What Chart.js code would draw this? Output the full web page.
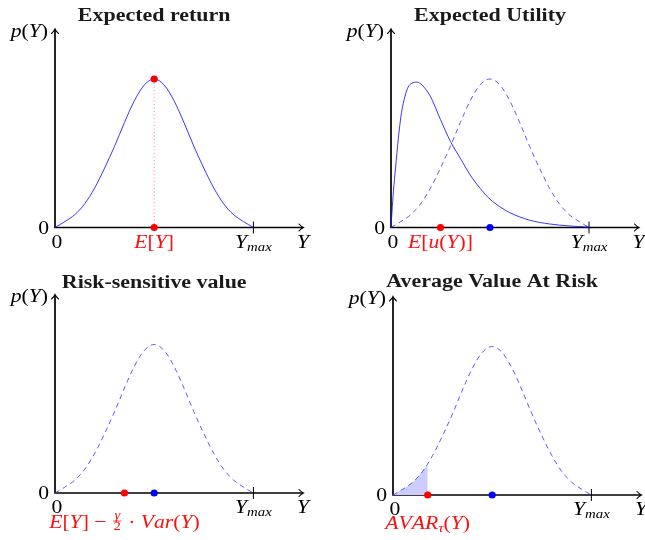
<!DOCTYPE html>
<html>
<head>
<meta charset="utf-8">
<script src="https://cdn.jsdelivr.net/npm/chart.js@4.4.1/dist/chart.umd.min.js"></script>
<style>
html, body { margin: 0; padding: 0; background: #fff; }
#wrap { position: relative; width: 645px; height: 540px; }
#wrap canvas { position: absolute; left: 0; top: 0; }
</style>
</head>
<body>
<div id="wrap">
  <canvas id="c1" width="645" height="540"></canvas>
  <canvas id="c2" width="645" height="540"></canvas>
  <canvas id="c3" width="645" height="540"></canvas>
  <canvas id="c4" width="645" height="540"></canvas>
</div>
<script>
// densities (x in tenths of Y_max, y relative to axis height)
const bellX = [0, 0.5, 1, 1.5, 2, 2.5, 3, 3.5, 4, 4.5, 5, 5.5, 6, 6.5, 7, 7.5, 8, 8.5, 9, 9.5, 10];
const bellY = [0, 0.03, 0.065, 0.12, 0.2, 0.3, 0.41, 0.53, 0.64, 0.72, 0.75, 0.72, 0.64, 0.53, 0.41, 0.3, 0.2, 0.12, 0.065, 0.03, 0];
const skewX = [0, 0.05, 0.12, 0.23, 0.37, 0.53, 0.7, 0.87, 1.05, 1.3, 1.5, 1.7, 2, 2.5, 3, 3.5, 4, 4.5, 5, 5.5, 6, 7, 8, 9, 10];
const skewY = [0, 0.08, 0.18, 0.3, 0.45, 0.58, 0.66, 0.71, 0.728, 0.734, 0.726, 0.705, 0.66, 0.545, 0.435, 0.35, 0.265, 0.198, 0.143, 0.105, 0.075, 0.037, 0.018, 0.008, 0.002];
const shadeX = [0, 0.5, 1, 1.5, 1.75];
const shadeY = [0, 0.03, 0.065, 0.12, 0.155];

const yMaxValue = 10;    // where the Y_max tick sits
const axisEnd = 12.5;    // arrow tip of the x axis
const axisTop = 1;       // arrow tip of the y axis
const meanValue = 5;
const peakValue = 0.75;
const utilityValue = 2.5;
const riskValue = 3.5;
const avarValue = 1.75;

const SERIF = '"Liberation Serif", "DejaVu Serif", serif';
const BLUE = 'rgba(20,20,255,0.85)';
const DASHED = 'rgba(50,50,255,0.8)';
const WIDE = 1.14;   // Computer Modern runs wider than Times

function pts(xs, ys) {
    return xs.map((x, i) => ({ x: x, y: ys[i] }));
}

function curve(xs, ys, dashed) {
    return {
        data: pts(xs, ys),
        showLine: true,
        borderColor: dashed ? DASHED : BLUE,
        borderWidth: 1,
        borderDash: dashed ? [5, 4] : [],
        pointRadius: 0,
        cubicInterpolationMode: 'monotone',
        clip: false
    };
}

function dot(x, y, color) {
    return {
        data: [{ x: x, y: y }],
        showLine: false,
        pointRadius: 3.6,
        pointBackgroundColor: color,
        pointBorderWidth: 0,
        clip: false
    };
}

// draw a row of math pieces; f: 'i' italic, 'r' upright; small = subscript
function drawMath(ctx, parts, x, y, color, align) {
    ctx.save();
    ctx.fillStyle = color;
    ctx.strokeStyle = color;
    ctx.textAlign = 'left';
    ctx.textBaseline = 'alphabetic';
    const fontOf = (p) => (p.f === 'r' ? '' : 'italic ') + (p.small ? 13 : 19) + 'px ' + SERIF;
    const widths = parts.map(p => {
        if (p.frac) {
            ctx.font = 'italic 13px ' + SERIF;
            const a = ctx.measureText(p.frac[0]).width;
            ctx.font = '13px ' + SERIF;
            const b = ctx.measureText(p.frac[1]).width;
            return (Math.max(a, b) + 3) * WIDE;
        }
        ctx.font = fontOf(p);
        return ctx.measureText(p.t).width * WIDE;
    });
    const total = widths.reduce((a, b) => a + b, 0);
    let cx = align === 'right' ? x - total : align === 'left' ? x : x - total / 2;
    parts.forEach((p, i) => {
        const w = widths[i];
        ctx.save();
        ctx.translate(cx, y);
        ctx.scale(WIDE, 1);
        const lw = w / WIDE;
        if (p.frac) {
            ctx.font = 'italic 13px ' + SERIF;
            ctx.textAlign = 'center';
            ctx.fillText(p.frac[0], lw / 2, -9);
            ctx.font = '13px ' + SERIF;
            ctx.fillText(p.frac[1], lw / 2, 2);
            ctx.lineWidth = 0.7;
            ctx.beginPath();
            ctx.moveTo(1, -7);
            ctx.lineTo(lw - 1, -7);
            ctx.stroke();
        } else {
            ctx.font = fontOf(p);
            ctx.fillText(p.t, 0, p.small ? 3 : 0);
        }
        ctx.restore();
        cx += w;
    });
    ctx.restore();
}

const I = (t) => ({ t: t, f: 'i' });
const R = (t) => ({ t: t, f: 'r' });
const S = (t) => ({ t: t, f: 'i', small: true });

const pY = [I('p'), R('('), I('Y'), R(')')];
const yMaxLabel = [I('Y'), S('max')];

const decor = {
    id: 'decor',
    beforeDatasetsDraw(chart, args, opts) {
        const ctx = chart.ctx;
        const xs = chart.scales.x, ys = chart.scales.y;
        const x0 = xs.getPixelForValue(0), y0 = ys.getPixelForValue(0);
        const xe = xs.getPixelForValue(axisEnd), yt = ys.getPixelForValue(axisTop);
        const xm = xs.getPixelForValue(yMaxValue);
        ctx.save();
        ctx.strokeStyle = '#000';
        ctx.lineWidth = 1.7;
        ctx.lineCap = 'butt';
        ctx.beginPath();
        ctx.moveTo(x0 - 0.8, y0);
        ctx.lineTo(xe, y0);
        ctx.moveTo(x0, y0 + 0.8);
        ctx.lineTo(x0, yt);
        ctx.stroke();
        // arrow heads
        ctx.lineWidth = 1.1;
        ctx.lineCap = 'round';
        ctx.beginPath();
        ctx.moveTo(xe - 4, y0 - 3.5);
        ctx.quadraticCurveTo(xe - 1.5, y0 - 0.8, xe + 0.5, y0);
        ctx.quadraticCurveTo(xe - 1.5, y0 + 0.8, xe - 4, y0 + 3.5);
        ctx.moveTo(x0 - 3.5, yt + 4);
        ctx.quadraticCurveTo(x0 - 0.8, yt + 1.5, x0, yt - 0.5);
        ctx.quadraticCurveTo(x0 + 0.8, yt + 1.5, x0 + 3.5, yt + 4);
        ctx.stroke();
        // Y_max tick
        ctx.lineWidth = 1;
        ctx.lineCap = 'butt';
        ctx.beginPath();
        ctx.moveTo(xm, y0 - 6);
        ctx.lineTo(xm, y0 + 6);
        ctx.stroke();
        ctx.restore();
    },
    afterDraw(chart, args, opts) {
        const ctx = chart.ctx;
        const xs = chart.scales.x, ys = chart.scales.y;
        const x0 = xs.getPixelForValue(0), y0 = ys.getPixelForValue(0);
        const xe = xs.getPixelForValue(axisEnd), yt = ys.getPixelForValue(axisTop);
        const xm = xs.getPixelForValue(yMaxValue);

        // bold extended title
        ctx.save();
        ctx.fillStyle = '#1a1a1a';
        ctx.font = 'bold 18px ' + SERIF;
        ctx.textAlign = 'center';
        ctx.textBaseline = 'alphabetic';
        ctx.translate(xs.getPixelForValue(meanValue), yt + opts.titleDy);
        ctx.scale(1.22, 1);
        ctx.fillText(opts.title, 0, 0);
        ctx.restore();

        drawMath(ctx, pY, x0 - 7, yt + 7, '#000', 'right');
        drawMath(ctx, [R('0')], x0 - 6, y0 + 6, '#000', 'right');
        drawMath(ctx, [R('0')], x0 + 2, y0 + 20, '#000', 'center');
        drawMath(ctx, yMaxLabel, xm, y0 + 20, '#000', 'center');
        drawMath(ctx, [I('Y')], xe, y0 + 20, '#000', 'center');
        drawMath(ctx, opts.label, xs.getPixelForValue(opts.labelAt), y0 + opts.labelDy, '#ff1010', 'center');
    }
};

function makePanel(id, pad, datasets, deco) {
    new Chart(document.getElementById(id), {
        type: 'scatter',
        data: { datasets: datasets },
        options: {
            responsive: false,
            animation: false,
            events: [],
            layout: { padding: pad },
            scales: {
                x: { type: 'linear', min: 0, max: axisEnd, display: false },
                y: { type: 'linear', min: 0, max: axisTop, display: false }
            },
            plugins: {
                legend: { display: false },
                tooltip: { enabled: false },
                decor: deco
            }
        },
        plugins: [decor]
    });
}

// Expected return
makePanel('c1', { left: 55, right: 342, top: 29.5, bottom: 312.5 }, [
    dot(meanValue, peakValue, '#ff0000'),
    dot(meanValue, 0, '#ff0000'),
    {
        data: pts([meanValue, meanValue], [0, peakValue]),
        showLine: true,
        borderColor: 'rgba(255,90,90,0.8)',
        borderWidth: 1,
        borderDash: [1, 2.5],
        pointRadius: 0,
        clip: false
    },
    curve(bellX, bellY, false)
], {
    title: 'Expected return', titleDy: -9,
    label: [I('E'), R('['), I('Y'), R(']')], labelAt: meanValue, labelDy: 20
});

// Expected Utility
makePanel('c2', { left: 391, right: 6.5, top: 29.5, bottom: 312.5 }, [
    dot(utilityValue, 0, '#ff0000'),
    dot(meanValue, 0, '#0000ff'),
    curve(skewX, skewY, false),
    curve(bellX, bellY, true)
], {
    title: 'Expected Utility', titleDy: -9,
    label: [I('E'), R('['), I('u'), R('('), I('Y'), R(')'), R(']')], labelAt: utilityValue, labelDy: 20
});

// Risk-sensitive value
makePanel('c3', { left: 55, right: 342, top: 295, bottom: 47 }, [
    dot(riskValue, 0, '#ff0000'),
    dot(meanValue, 0, '#0000ff'),
    curve(bellX, bellY, true)
], {
    title: 'Risk-sensitive value', titleDy: -7,
    label: [I('E'), R('['), I('Y'), R(']'), R(' \u2212 '), { frac: ['\u03b3', '2'] }, R(' \u00b7 '), I('V'), I('ar'), R('('), I('Y'), R(')')],
    labelAt: riskValue, labelDy: 35
});

// Average Value At Risk
makePanel('c4', { left: 393, right: 2, top: 297, bottom: 45 }, [
    dot(avarValue, 0, '#ff0000'),
    dot(meanValue, 0, '#0000ff'),
    curve(bellX, bellY, true),
    {
        data: pts(shadeX, shadeY),
        showLine: true,
        borderWidth: 0,
        borderColor: 'rgba(0,0,0,0)',
        backgroundColor: '#ccccff',
        fill: 'origin',
        pointRadius: 0,
        cubicInterpolationMode: 'monotone',
        clip: false
    }
], {
    title: 'Average Value At Risk', titleDy: -10,
    label: [I('A'), I('V'), I('A'), I('R'), S('\u03c4'), R('('), I('Y'), R(')')], labelAt: avarValue, labelDy: 34
});
</script>
</body>
</html>
